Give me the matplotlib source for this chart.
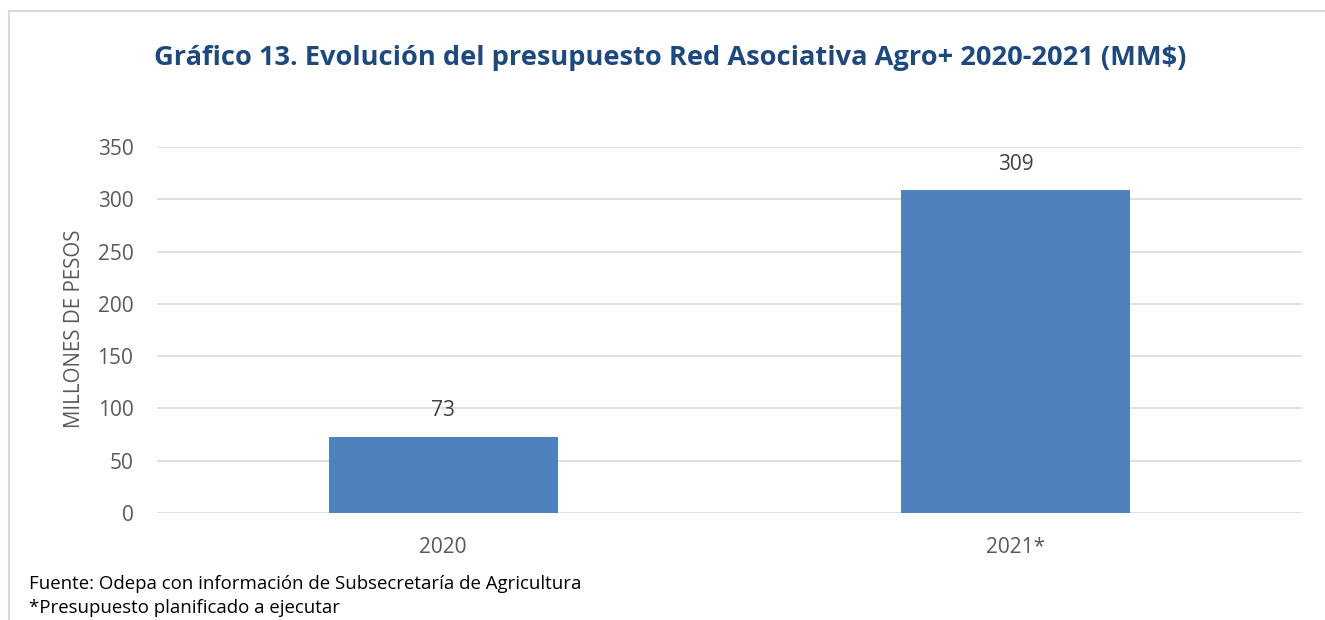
import matplotlib.pyplot as plt
from matplotlib.lines import Line2D

# Datos del gráfico
categorias = ["2020", "2021*"]
presupuesto = [73, 309]
yticks = [0, 50, 100, 150, 200, 250, 300, 350]

titulo = "Gráfico 13. Evolución del presupuesto Red Asociativa Agro+ 2020-2021 (MM$)"
ylabel = "MILLONES DE PESOS"
fuente = "Fuente: Odepa con información de Subsecretaría de Agricultura"
nota = "*Presupuesto planificado a ejecutar"

plt.rcParams['font.family'] = ['Open Sans', 'DejaVu Sans']

W, H = 1325, 620
fig = plt.figure(figsize=(W / 100, H / 100), dpi=100)
fig.patch.set_facecolor("white")

# Area del grafico (en pixeles)
left, right, top, bottom = 157, 1302, 147, 513
ax = fig.add_axes([left / W, 1 - bottom / H, (right - left) / W, (bottom - top) / H])

x = range(len(categorias))
ax.bar(x, presupuesto, width=0.4, color="#4F81BD", zorder=3)

for xi, v in zip(x, presupuesto):
    ax.annotate(str(v), (xi, v), xytext=(0, 11), textcoords="offset points",
                ha="center", va="bottom", fontsize=15, color="#404040")

ax.set_xlim(-0.5, 1.5)
ax.set_ylim(0, 350)
ax.set_yticks(yticks)
ax.set_xticks(list(x))
ax.set_xticklabels(categorias)
ax.tick_params(axis="both", length=0, labelsize=15, labelcolor="#595959")
ax.tick_params(axis="y", pad=17)
ax.tick_params(axis="x", pad=17)
ax.yaxis.grid(True, color="#D9D9D9", linewidth=1.2, zorder=0)
for s in ax.spines.values():
    s.set_visible(False)

fig.text(75 / W, 1 - 329 / H, ylabel, rotation=90, ha="center", va="center",
         fontsize=14.8, color="#595959")

fig.text(670 / W, 1 - 58 / H, titulo, ha="center", va="center",
         fontsize=19.6, fontweight="bold", color="#1F497D")

fig.text(29 / W, 1 - 584 / H, fuente, ha="left", va="center", fontsize=13.4, color="#000000")
fig.text(29 / W, 1 - 608 / H, nota, ha="left", va="center", fontsize=13.4, color="#000000")

# Borde del area del grafico
fig.add_artist(Line2D([9 / W, 1], [1 - 11 / H, 1 - 11 / H], color="#D9D9D9", linewidth=1.5))
fig.add_artist(Line2D([9 / W, 9 / W], [1 - 11 / H, 0], color="#D9D9D9", linewidth=1.5))

fig.savefig("out.png", dpi=100)
